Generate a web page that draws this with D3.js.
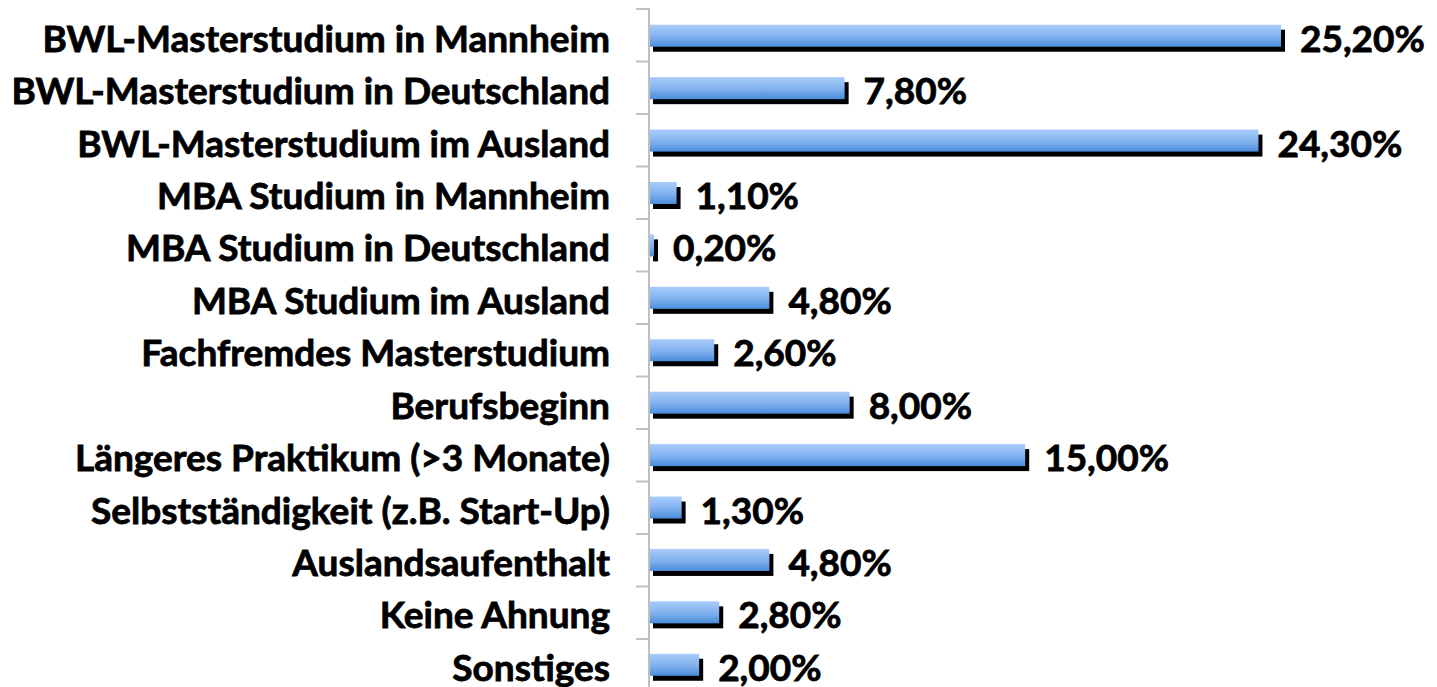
<!DOCTYPE html>
<html>
<head>
<meta charset="utf-8">
<script src="https://cdn.jsdelivr.net/npm/d3@7"></script>
<style>
  html, body { margin: 0; padding: 0; background: #ffffff; }
  svg { display: block; }
  text { font-family: Lato, "Open Sans", sans-serif; font-weight: 700; fill: #000;
         stroke: #000; stroke-width: 0.8px; }
</style>
</head>
<body>
<svg id="chart" width="1437" height="687"></svg>
<script>
// Categories (top to bottom) and their shares in percent
const categories = [
  "BWL-Masterstudium in Mannheim",
  "BWL-Masterstudium in Deutschland",
  "BWL-Masterstudium im Ausland",
  "MBA Studium in Mannheim",
  "MBA Studium in Deutschland",
  "MBA Studium im Ausland",
  "Fachfremdes Masterstudium",
  "Berufsbeginn",
  "Längeres Praktikum (>3 Monate)",
  "Selbstständigkeit (z.B. Start-Up)",
  "Auslandsaufenthalt",
  "Keine Ahnung",
  "Sonstiges"
];
const values = [25.2, 7.8, 24.3, 1.1, 0.2, 4.8, 2.6, 8.0, 15.0, 1.3, 4.8, 2.8, 2.0];
const valueLabels = ["25,20%", "7,80%", "24,30%", "1,10%", "0,20%", "4,80%", "2,60%",
                     "8,00%", "15,00%", "1,30%", "4,80%", "2,80%", "2,00%"];

const svg = d3.select("#chart");
const axisX = 649;
const plotTop = 9, step = 52.5;
const fontSize = 37;

const x = d3.scaleLinear().domain([0, 26]).range([axisX, axisX + 26 * 25.08]);
const y = d3.scaleBand()
  .domain(categories)
  .range([plotTop, plotTop + step * categories.length])
  .paddingInner(0.58)
  .paddingOuter(0.3);

// Vertical blue gradient for the bars
const defs = svg.append("defs");
const grad = defs.append("linearGradient")
  .attr("id", "barGrad").attr("x1", 0).attr("y1", 0).attr("x2", 0).attr("y2", 1);
grad.append("stop").attr("offset", "0%").attr("stop-color", "#a9cdfb");
grad.append("stop").attr("offset", "55%").attr("stop-color", "#7fb0ee");
grad.append("stop").attr("offset", "100%").attr("stop-color", "#4a8ddb");

const data = categories.map((c, i) => ({ cat: c, v: values[i], label: valueLabels[i] }));

// Drop shadows
svg.append("g").selectAll("rect").data(data).join("rect")
  .attr("x", x(0) + 4)
  .attr("y", d => y(d.cat) + 5)
  .attr("width", d => x(d.v) - x(0))
  .attr("height", y.bandwidth())
  .attr("fill", "#000");

// Bars
svg.append("g").selectAll("rect").data(data).join("rect")
  .attr("x", x(0))
  .attr("y", d => y(d.cat))
  .attr("width", d => x(d.v) - x(0))
  .attr("height", y.bandwidth())
  .attr("fill", "url(#barGrad)");

// Category axis
const tickYs = d3.range(categories.length + 1).map(i => plotTop + i * step);
const axis = svg.append("g");
axis.append("line")
  .attr("x1", axisX).attr("x2", axisX)
  .attr("y1", plotTop - 1).attr("y2", 687)
  .attr("stroke", "#bfbfbf").attr("stroke-width", 2);
axis.selectAll("line.tick").data(tickYs).join("line")
  .attr("class", "tick")
  .attr("x1", axisX - 13).attr("x2", axisX)
  .attr("y1", d => d).attr("y2", d => d)
  .attr("stroke", "#bfbfbf").attr("stroke-width", 2);

// Category labels
svg.append("g").selectAll("text").data(data).join("text")
  .attr("x", 610)
  .attr("y", d => y(d.cat) + y.bandwidth() / 2 + 16)
  .attr("text-anchor", "end")
  .attr("font-size", fontSize)
  .text(d => d.cat);

// Value labels
svg.append("g").selectAll("text").data(data).join("text")
  .attr("x", d => x(d.v) + 19)
  .attr("y", d => y(d.cat) + y.bandwidth() / 2 + 16)
  .attr("font-size", fontSize)
  .text(d => d.label);
</script>
</body>
</html>
